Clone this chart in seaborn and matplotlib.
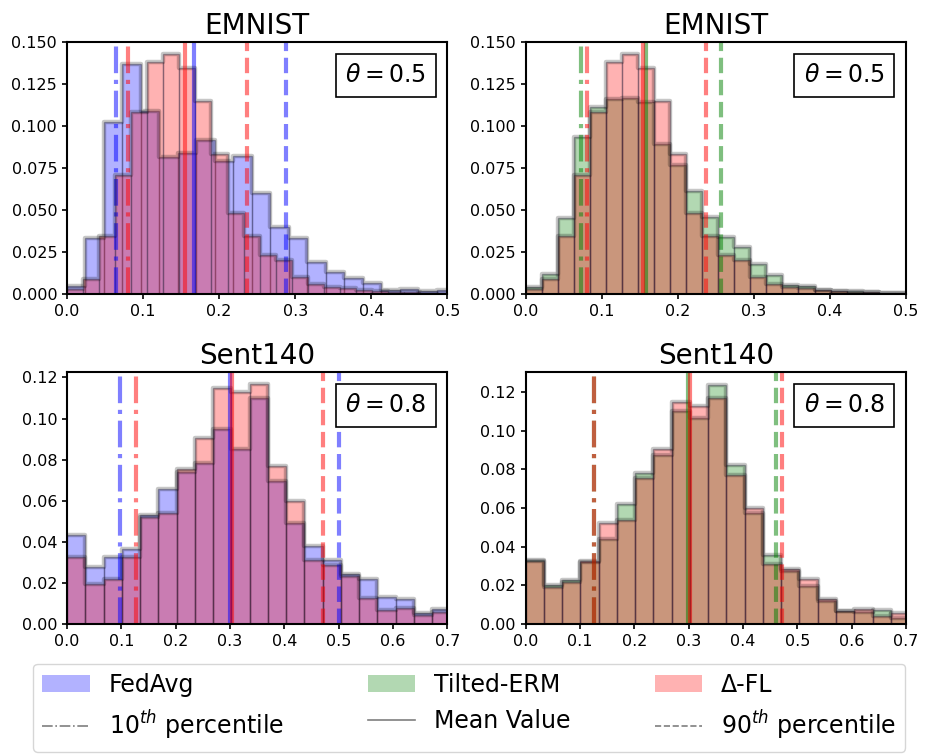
import numpy as np
import pandas as pd
import matplotlib
matplotlib.use("Agg")
import matplotlib.pyplot as plt
import seaborn as sns
from matplotlib.patches import Patch
from matplotlib.lines import Line2D
from matplotlib.offsetbox import AnchoredText

# ---------------- data ----------------
# EMNIST: per-bin probability of the client accuracy loss
emnist_fedavg_binwidth = 0.0243
emnist_fedavg = [0.0045, 0.0335, 0.1024, 0.1367, 0.109, 0.0817, 0.084, 0.0917,
                 0.079, 0.082, 0.060, 0.040, 0.0335, 0.019, 0.013, 0.0095,
                 0.0065, 0.0025, 0.003, 0.0018, 0.0025]
emnist_dfl_binwidth = 0.0211
emnist_dfl = [0.003, 0.0088, 0.0345, 0.0706, 0.1083, 0.138, 0.1427, 0.1343,
              0.1149, 0.0831, 0.0484, 0.0345, 0.0232, 0.0202, 0.0103, 0.0058,
              0.0044, 0.0034, 0.0024, 0.0016, 0.0012, 0.001, 0.0006, 0.0004]
emnist_tilted_binwidth = 0.0211
emnist_tilted = [0.004, 0.012, 0.045, 0.0934, 0.1115, 0.1159, 0.1168, 0.114,
                 0.089, 0.0765, 0.061, 0.046, 0.034, 0.028, 0.018, 0.0115,
                 0.0055, 0.0045, 0.0025, 0.002, 0.0016, 0.0012, 0.0008, 0.0005]

# Sent140
sent_binwidth = 0.0336
sent_fedavg = [0.0435, 0.0275, 0.0328, 0.0365, 0.053, 0.0655, 0.074, 0.0785,
               0.0947, 0.085, 0.110, 0.0696, 0.0493, 0.038, 0.031, 0.0245,
               0.0217, 0.0133, 0.012, 0.0055, 0.0071]
sent_dfl = [0.0328, 0.0193, 0.0217, 0.0328, 0.052, 0.054, 0.0753, 0.0907,
            0.115, 0.113, 0.117, 0.077, 0.060, 0.031, 0.0285, 0.0235,
            0.0128, 0.0066, 0.0079, 0.0042, 0.0058]
sent_tilted = [0.033, 0.020, 0.023, 0.032, 0.0438, 0.062, 0.078, 0.0875,
               0.110, 0.1067, 0.1234, 0.082, 0.0576, 0.0355, 0.0275, 0.0197,
               0.0119, 0.0067, 0.0062, 0.0071, 0.0033]

# (10th percentile, mean, 90th percentile)
emnist_fedavg_stats = [0.0641, 0.1666, 0.2872]
emnist_dfl_stats = [0.0806, 0.1545, 0.2367]
emnist_tilted_stats = [0.0723, 0.158, 0.257]
sent_fedavg_stats = [0.098, 0.300, 0.5006]
sent_dfl_stats = [0.1268, 0.3033, 0.4718]
sent_tilted_stats = [0.1262, 0.299, 0.461]

titles = ["EMNIST", "EMNIST", "Sent140", "Sent140"]
thetas = ["0.5", "0.5", "0.8", "0.8"]
series_labels = ["FedAvg", "Tilted-ERM", "Δ-FL"]
line_labels = [r"10$^{th}$ percentile", "Mean Value", r"90$^{th}$ percentile"]
emnist_yticks = [0.0, 0.025, 0.05, 0.075, 0.1, 0.125, 0.15]
sent_yticks = [0.0, 0.02, 0.04, 0.06, 0.08, 0.1, 0.12]

# ---------------- style ----------------
plt.rcParams["axes.linewidth"] = 1.5
plt.rcParams["xtick.major.width"] = 1.2
plt.rcParams["ytick.major.width"] = 1.2
plt.rcParams["xtick.labelsize"] = 11.5
plt.rcParams["ytick.labelsize"] = 11.5
plt.rcParams["font.family"] = ["DejaVu Sans"]

COL = {"FedAvg": "b", "Tilted-ERM": "g", "Δ-FL": "r"}
LS = ["-.", "-", "--"]

fig, axes = plt.subplots(2, 2, figsize=(9.25, 7.54), dpi=100)
fig.subplots_adjust(left=0.0724, right=0.9795, top=0.9443, bottom=0.1724,
                    wspace=0.205, hspace=0.31)


def draw_series(ax, heights, width, color, stats):
    h = np.asarray(heights, dtype=float)
    edges = np.arange(len(h) + 1) * width
    df = pd.DataFrame({"x": edges[:-1] + width / 2, "w": h})
    sns.histplot(data=df, x="x", weights="w", bins=list(edges), stat="count",
                 ax=ax, color=color, alpha=0.3,
                 edgecolor=(0.15, 0.15, 0.25, 0.35), linewidth=1.0)
    sns.histplot(data=df, x="x", weights="w", bins=list(edges), stat="count",
                 ax=ax, element="step", fill=False, color="k", alpha=0.22,
                 linewidth=3.2)
    for v, ls in zip(stats, LS):
        ax.axvline(v, color=color, ls=ls, lw=3, alpha=0.5)


panels = [
    (axes[0, 0], [(emnist_fedavg, emnist_fedavg_binwidth, "FedAvg", emnist_fedavg_stats),
                  (emnist_dfl, emnist_dfl_binwidth, "Δ-FL", emnist_dfl_stats)],
     (0, 0.5), (0, 0.15), np.arange(0, 0.51, 0.1), emnist_yticks),
    (axes[0, 1], [(emnist_tilted, emnist_tilted_binwidth, "Tilted-ERM", emnist_tilted_stats),
                  (emnist_dfl, emnist_dfl_binwidth, "Δ-FL", emnist_dfl_stats)],
     (0, 0.5), (0, 0.15), np.arange(0, 0.51, 0.1), emnist_yticks),
    (axes[1, 0], [(sent_fedavg, sent_binwidth, "FedAvg", sent_fedavg_stats),
                  (sent_dfl, sent_binwidth, "Δ-FL", sent_dfl_stats)],
     (0, 0.7), (0, 0.1226), np.arange(0, 0.71, 0.1), sent_yticks),
    (axes[1, 1], [(sent_tilted, sent_binwidth, "Tilted-ERM", sent_tilted_stats),
                  (sent_dfl, sent_binwidth, "Δ-FL", sent_dfl_stats)],
     (0, 0.7), (0, 0.1303), np.arange(0, 0.71, 0.1), sent_yticks),
]

for i, (ax, series, xl, yl, xt, yt) in enumerate(panels):
    for h, w, name, st in series:
        draw_series(ax, h, w, COL[name], st)
    ax.set_xlim(*xl)
    ax.set_xticks(xt)
    ax.set_yticks(yt)
    ax.set_ylim(*yl)
    ax.set_xlabel("")
    ax.set_ylabel("")
    ax.set_title(titles[i], fontsize=20)
    at = AnchoredText(r"$\theta = %s$" % thetas[i], loc="upper right",
                      prop=dict(size=17), frameon=True)
    at.patch.set_boxstyle("square,pad=0.")
    at.patch.set_linewidth(1.2)
    ax.add_artist(at)

handles = [
    Patch(color=COL["FedAvg"], alpha=0.3, linewidth=0),
    Line2D([], [], color="k", alpha=0.5, ls="-.", lw=1.2),
    Patch(color=COL["Tilted-ERM"], alpha=0.3, linewidth=0),
    Line2D([], [], color="k", alpha=0.5, ls="-", lw=1.2),
    Patch(color=COL["Δ-FL"], alpha=0.3, linewidth=0),
    Line2D([], [], color="k", alpha=0.5, ls="--", lw=1.2),
]
labels = [series_labels[0], line_labels[0], series_labels[1], line_labels[1],
          series_labels[2], line_labels[2]]
fig.legend(handles, labels, loc="lower left",
           bbox_to_anchor=(0.0357, 0.003, 0.943, 0.11), mode="expand",
           ncol=3, fontsize=17, borderaxespad=0)

fig.savefig("out.png", dpi=100)
